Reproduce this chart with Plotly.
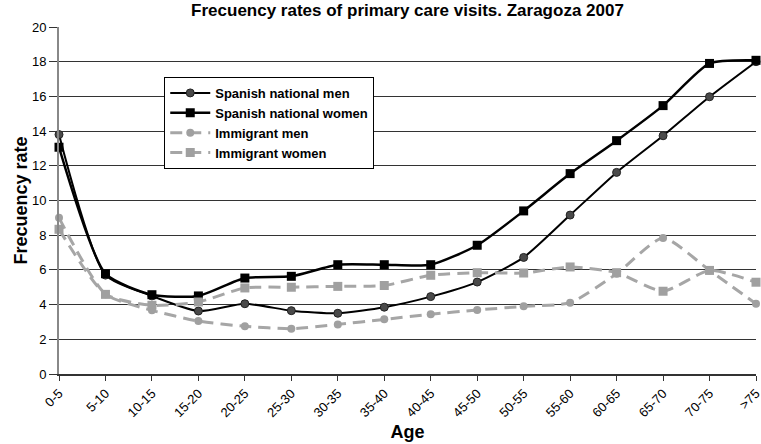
import plotly.graph_objects as go

ages = ["0-5", "5-10", "10-15", "15-20", "20-25", "25-30", "30-35", "35-40",
        "40-45", "45-50", "50-55", "55-60", "60-65", "65-70", "70-75", ">75"]

spanish_men = [13.8, 5.7, 4.5, 3.63, 4.05, 3.65, 3.5, 3.85, 4.46, 5.3, 6.72, 9.16, 11.62, 13.73, 15.98, 18.0]
spanish_women = [13.07, 5.78, 4.57, 4.5, 5.53, 5.63, 6.3, 6.3, 6.3, 7.42, 9.4, 11.55, 13.45, 15.47, 17.9, 18.08]
immigrant_men = [9.0, 4.6, 3.67, 3.05, 2.75, 2.61, 2.86, 3.15, 3.44, 3.69, 3.9, 4.11, 5.78, 7.84, 5.97, 4.05]
immigrant_women = [8.34, 4.59, 3.96, 4.15, 4.96, 5.0, 5.05, 5.1, 5.69, 5.84, 5.82, 6.17, 5.84, 4.77, 5.97, 5.29]

title_text = "Frecuency rates of primary care visits. Zaragoza 2007"
y_title = "Frecuency rate"
x_title = "Age"

fig = go.Figure()

fig.add_trace(go.Scatter(
    x=ages, y=spanish_men, name="<b>Spanish national men</b>",
    mode="lines+markers", line=dict(color="#000000", width=2, shape="spline", smoothing=0.6),
    marker=dict(symbol="circle", size=8, color="#4a4a4a", line=dict(color="#222222", width=1)),
    cliponaxis=False))
fig.add_trace(go.Scatter(
    x=ages, y=spanish_women, name="<b>Spanish national women</b>",
    mode="lines+markers", line=dict(color="#000000", width=2.5, shape="spline", smoothing=0.6),
    marker=dict(symbol="square", size=9, color="#000000"),
    cliponaxis=False))
fig.add_trace(go.Scatter(
    x=ages, y=immigrant_men, name="<b>Immigrant men</b>",
    mode="lines+markers", line=dict(color="#a6a6a6", width=3, dash="12px,7px", shape="spline", smoothing=0.6),
    marker=dict(symbol="circle", size=8, color="#a0a0a0"),
    cliponaxis=False))
fig.add_trace(go.Scatter(
    x=ages, y=immigrant_women, name="<b>Immigrant women</b>",
    mode="lines+markers", line=dict(color="#a6a6a6", width=3, dash="12px,7px", shape="spline", smoothing=0.6),
    marker=dict(symbol="square", size=9, color="#a0a0a0"),
    cliponaxis=False))

fig.update_layout(
    width=761, height=444,
    margin=dict(l=59, r=5, t=27, b=70, autoexpand=False),
    paper_bgcolor="white", plot_bgcolor="white",
    font=dict(family="Liberation Sans, Arial, sans-serif", color="#000000"),
    title=dict(text="<b>" + title_text + "</b>", xref="paper", x=0.5, xanchor="center",
               yref="container", y=1 - 10 / 444, yanchor="middle",
               font=dict(size=17, color="#000000")),
    showlegend=True,
    legend=dict(x=0.151, y=0.856, xanchor="left", yanchor="top",
                bgcolor="white", bordercolor="#000000", borderwidth=1,
                font=dict(size=13, color="#000000"), tracegroupgap=0,
                itemwidth=40),
    xaxis=dict(
        type="category", range=[0, 15], tickangle=-45, automargin=False,
        showgrid=False, showline=True, linecolor="#333333", linewidth=1.5,
        ticks="outside", ticklen=5, tickcolor="#333333",
        tickfont=dict(size=13, color="#000000"),
        title=dict(text="<b>" + x_title + "</b>", font=dict(size=18), standoff=6),
        zeroline=False),
    yaxis=dict(
        range=[0, 20], dtick=2, automargin=False,
        showgrid=True, gridcolor="#333333", gridwidth=1,
        showline=True, linecolor="#888888", linewidth=2,
        ticks="outside", ticklen=8, tickcolor="#333333",
        tickfont=dict(size=13, color="#000000"),
        title=dict(text="<b>" + y_title + "</b>", font=dict(size=18), standoff=0),
        zeroline=False),
)

fig.write_html("out.html", config={"displayModeBar": False},
               post_script="document.body.style.margin='0';")
